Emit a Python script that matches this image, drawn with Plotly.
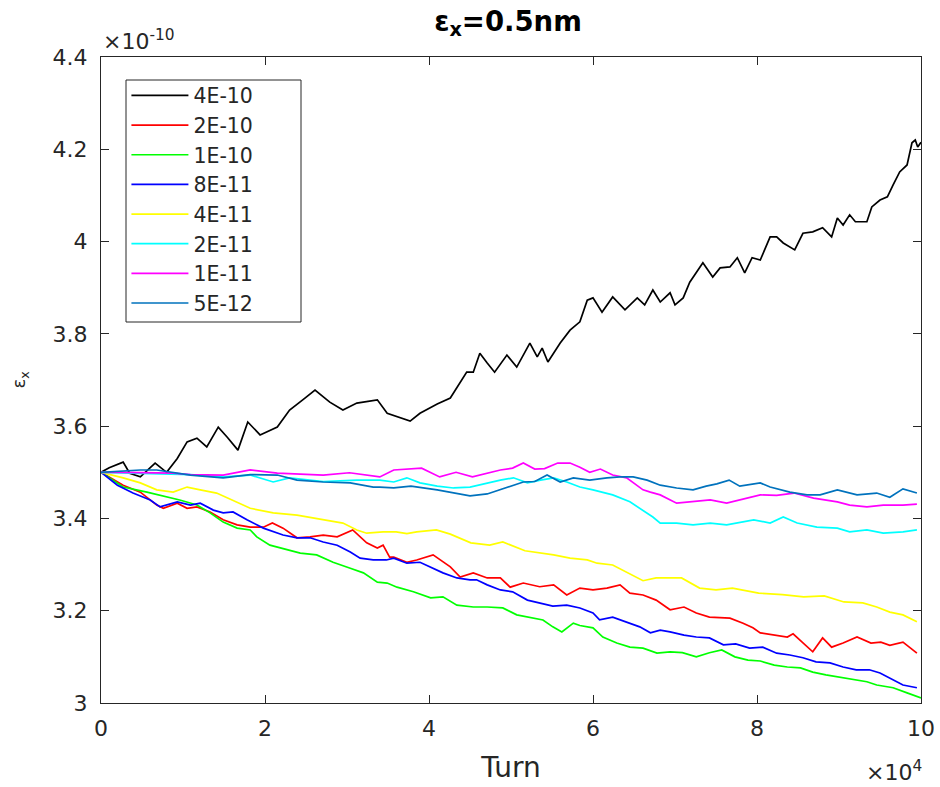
import plotly.graph_objects as go

# Horizontal emittance vs turn number for several coupling strengths.
# Turn values in units of 1e4, emittance in units of 1e-10 m.

labels = ["4E-10", "2E-10", "1E-10", "8E-11", "4E-11", "2E-11", "1E-11", "5E-12"]
colors = ["#000000", "#ff0000", "#00ff00", "#0000ff", "#ffff00", "#00ffff", "#ff00ff", "#0072bd"]

turn_4e10 = [0, 0.1, 0.27, 0.35, 0.48, 0.66, 0.80, 0.93, 1.05, 1.17, 1.29, 1.43, 1.54, 1.67, 1.79, 1.94,
             2.15, 2.30, 2.46, 2.61, 2.79, 2.95, 3.12, 3.37, 3.49, 3.61, 3.77, 3.89, 4.10, 4.26, 4.38,
             4.46, 4.54, 4.62, 4.71, 4.80, 4.95, 5.07, 5.23, 5.32, 5.38, 5.45, 5.60, 5.72, 5.84, 5.93,
             6.00, 6.11, 6.24, 6.39, 6.54, 6.63, 6.73, 6.82, 6.94, 7.00, 7.10, 7.18, 7.34, 7.46, 7.55,
             7.67, 7.76, 7.85, 7.94, 8.04, 8.16, 8.24, 8.32, 8.46, 8.56, 8.68, 8.80, 8.91, 8.98, 9.05,
             9.13, 9.20, 9.34, 9.40, 9.50, 9.59, 9.66, 9.74, 9.83, 9.89, 9.93, 9.96, 10.0]
emit_4e10 = [3.50, 3.51, 3.522, 3.498, 3.49, 3.52, 3.50, 3.53, 3.566, 3.574, 3.555, 3.598, 3.576, 3.548,
             3.609, 3.581, 3.598, 3.635, 3.657, 3.678, 3.652, 3.635, 3.650, 3.657, 3.628, 3.62, 3.611,
             3.628, 3.648, 3.661, 3.696, 3.717, 3.717, 3.758, 3.737, 3.717, 3.754, 3.728, 3.780, 3.75,
             3.769, 3.739, 3.78, 3.808, 3.826, 3.873, 3.878, 3.847, 3.880, 3.852, 3.878, 3.863, 3.895,
             3.869, 3.889, 3.863, 3.878, 3.912, 3.954, 3.923, 3.943, 3.945, 3.965, 3.932, 3.965, 3.960,
             4.010, 4.010, 3.997, 3.982, 4.018, 4.021, 4.03, 4.01, 4.051, 4.036, 4.058, 4.043, 4.043,
             4.075, 4.09, 4.097, 4.123, 4.151, 4.166, 4.214, 4.22, 4.205, 4.215]

turn_2e10 = [0, 0.27, 0.48, 0.68, 0.76, 0.93, 1.05, 1.17, 1.33, 1.49, 1.66, 1.82, 1.98, 2.09, 2.22,
             2.39, 2.55, 2.71, 2.88, 3.07, 3.24, 3.37, 3.44, 3.52, 3.57, 3.73, 3.85, 4.05, 4.26, 4.38,
             4.54, 4.71, 4.87, 4.99, 5.15, 5.35, 5.52, 5.68, 5.84, 6.00, 6.17, 6.33, 6.45, 6.61, 6.77,
             6.94, 7.11, 7.26, 7.42, 7.67, 7.83, 7.95, 8.04, 8.20, 8.37, 8.44, 8.56, 8.68, 8.80, 8.91,
             9.05, 9.22, 9.39, 9.51, 9.62, 9.78, 9.95]
emit_2e10 = [3.50, 3.472, 3.457, 3.429, 3.422, 3.433, 3.422, 3.425, 3.414, 3.397, 3.386, 3.381, 3.381,
             3.39, 3.379, 3.358, 3.36, 3.364, 3.36, 3.375, 3.347, 3.336, 3.342, 3.316, 3.316, 3.305,
             3.31, 3.321, 3.295, 3.273, 3.282, 3.271, 3.271, 3.251, 3.26, 3.252, 3.256, 3.234, 3.249,
             3.245, 3.249, 3.256, 3.238, 3.234, 3.223, 3.202, 3.208, 3.195, 3.186, 3.184, 3.173, 3.163,
             3.152, 3.147, 3.143, 3.15, 3.13, 3.111, 3.141, 3.121, 3.13, 3.143, 3.13, 3.132, 3.125,
             3.132, 3.108]

turn_1e10 = [0, 0.27, 0.56, 0.80, 0.96, 1.17, 1.33, 1.49, 1.66, 1.82, 1.90, 2.06, 2.27, 2.43, 2.63,
             2.83, 3.04, 3.20, 3.37, 3.49, 3.61, 3.81, 4.02, 4.17, 4.34, 4.54, 4.71, 4.90, 5.07, 5.23,
             5.39, 5.51, 5.62, 5.76, 5.84, 6.00, 6.12, 6.29, 6.45, 6.61, 6.78, 6.94, 7.09, 7.26, 7.42,
             7.57, 7.73, 7.89, 8.04, 8.21, 8.37, 8.53, 8.68, 8.84, 9.01, 9.17, 9.34, 9.46, 9.66, 9.83,
             10.0]
emit_1e10 = [3.50, 3.468, 3.457, 3.447, 3.44, 3.429, 3.412, 3.392, 3.379, 3.375, 3.36, 3.342, 3.332,
             3.325, 3.321, 3.305, 3.292, 3.282, 3.262, 3.26, 3.251, 3.241, 3.228, 3.23, 3.212, 3.208,
             3.208, 3.206, 3.191, 3.186, 3.18, 3.165, 3.154, 3.173, 3.168, 3.163, 3.143, 3.13, 3.121,
             3.119, 3.108, 3.111, 3.109, 3.10, 3.109, 3.115, 3.10, 3.093, 3.091, 3.082, 3.078, 3.076,
             3.067, 3.061, 3.056, 3.05, 3.046, 3.039, 3.033, 3.022, 3.011]

turn_8e11 = [0, 0.20, 0.39, 0.60, 0.72, 0.93, 1.09, 1.21, 1.37, 1.49, 1.61, 1.78, 1.98, 2.22, 2.39,
             2.55, 2.71, 2.88, 3.04, 3.16, 3.32, 3.48, 3.57, 3.73, 3.89, 4.01, 4.17, 4.34, 4.50, 4.58,
             4.71, 4.87, 5.02, 5.20, 5.35, 5.51, 5.68, 5.84, 6.00, 6.08, 6.24, 6.41, 6.57, 6.70, 6.82,
             6.94, 7.11, 7.26, 7.42, 7.59, 7.74, 7.91, 8.07, 8.24, 8.40, 8.56, 8.72, 8.89, 9.05, 9.21,
             9.37, 9.50, 9.62, 9.78, 9.95]
emit_8e11 = [3.50, 3.472, 3.455, 3.44, 3.425, 3.436, 3.429, 3.433, 3.418, 3.412, 3.414, 3.397, 3.379,
             3.364, 3.358, 3.358, 3.349, 3.342, 3.327, 3.314, 3.31, 3.31, 3.314, 3.303, 3.305, 3.295,
             3.282, 3.271, 3.267, 3.267, 3.256, 3.245, 3.241, 3.223, 3.217, 3.21, 3.212, 3.206, 3.195,
             3.18, 3.186, 3.176, 3.165, 3.152, 3.158, 3.154, 3.147, 3.143, 3.141, 3.126, 3.128, 3.119,
             3.121, 3.108, 3.104, 3.098, 3.089, 3.087, 3.078, 3.072, 3.072, 3.065, 3.054, 3.039, 3.033]

turn_4e11 = [0, 0.27, 0.48, 0.68, 0.88, 1.05, 1.21, 1.41, 1.82, 2.10, 2.39, 2.71, 2.95, 3.12, 3.24,
             3.44, 3.60, 3.73, 3.85, 4.09, 4.26, 4.51, 4.74, 4.90, 5.17, 5.52, 5.72, 5.93, 6.05, 6.24,
             6.42, 6.61, 6.77, 7.08, 7.30, 7.50, 7.70, 8.02, 8.31, 8.57, 8.82, 9.06, 9.29, 9.46, 9.62,
             9.78, 9.95]
emit_4e11 = [3.50, 3.488, 3.477, 3.462, 3.457, 3.468, 3.462, 3.455, 3.422, 3.412, 3.407, 3.397, 3.39,
             3.375, 3.368, 3.371, 3.371, 3.367, 3.371, 3.375, 3.366, 3.347, 3.342, 3.349, 3.33, 3.321,
             3.314, 3.31, 3.303, 3.299, 3.282, 3.265, 3.271, 3.271, 3.249, 3.245, 3.249, 3.238, 3.235,
             3.23, 3.232, 3.219, 3.217, 3.208, 3.197, 3.191, 3.176]

turn_2e11 = [0, 0.48, 1.09, 1.49, 1.82, 2.10, 2.30, 2.71, 3.12, 3.40, 3.57, 3.73, 3.89, 4.10, 4.30,
             4.50, 4.71, 4.87, 5.03, 5.20, 5.36, 5.52, 5.68, 5.84, 6.00, 6.24, 6.45, 6.61, 6.73, 6.82,
             7.02, 7.22, 7.43, 7.63, 7.79, 7.96, 8.16, 8.32, 8.49, 8.73, 8.98, 9.13, 9.34, 9.54, 9.78,
             9.95]
emit_2e11 = [3.50, 3.498, 3.495, 3.49, 3.494, 3.479, 3.488, 3.48, 3.483, 3.483, 3.479, 3.488, 3.477,
             3.47, 3.466, 3.468, 3.477, 3.483, 3.488, 3.477, 3.483, 3.488, 3.479, 3.468, 3.462, 3.451,
             3.436, 3.418, 3.403, 3.39, 3.39, 3.386, 3.39, 3.386, 3.392, 3.397, 3.39, 3.403, 3.39,
             3.381, 3.379, 3.371, 3.375, 3.368, 3.371, 3.375]

turn_1e11 = [0, 0.27, 0.88, 1.09, 1.49, 1.82, 2.15, 2.71, 3.03, 3.40, 3.57, 3.73, 3.91, 4.13, 4.33,
             4.53, 4.71, 4.87, 5.02, 5.15, 5.29, 5.41, 5.57, 5.72, 5.84, 5.96, 6.09, 6.24, 6.41, 6.61,
             6.70, 6.82, 7.02, 7.22, 7.43, 7.63, 7.79, 7.87, 8.04, 8.24, 8.45, 8.69, 8.98, 9.13, 9.34,
             9.54, 9.78, 9.95]
emit_1e11 = [3.50, 3.50, 3.498, 3.495, 3.494, 3.505, 3.498, 3.494, 3.499, 3.49, 3.505, 3.507, 3.509,
             3.49, 3.50, 3.49, 3.498, 3.505, 3.509, 3.52, 3.507, 3.508, 3.52, 3.52, 3.511, 3.50,
             3.507, 3.494, 3.488, 3.462, 3.457, 3.451, 3.433, 3.436, 3.44, 3.433, 3.44, 3.444, 3.451,
             3.45, 3.455, 3.444, 3.436, 3.429, 3.425, 3.429, 3.429, 3.431]

turn_5e12 = [0, 0.48, 0.68, 1.09, 1.49, 1.82, 2.15, 2.39, 2.71, 3.04, 3.32, 3.40, 3.57, 3.78, 4.10,
             4.30, 4.50, 4.71, 4.87, 5.03, 5.15, 5.29, 5.44, 5.60, 5.76, 5.96, 6.17, 6.33, 6.49, 6.66,
             6.82, 7.02, 7.22, 7.38, 7.51, 7.66, 7.79, 8.04, 8.16, 8.40, 8.61, 8.77, 8.98, 9.22, 9.46,
             9.62, 9.78, 9.95]
emit_5e12 = [3.50, 3.505, 3.505, 3.494, 3.488, 3.495, 3.494, 3.483, 3.479, 3.477, 3.468, 3.468,
             3.466, 3.47, 3.462, 3.455, 3.449, 3.453, 3.462, 3.472, 3.479, 3.48, 3.494, 3.479, 3.488,
             3.483, 3.488, 3.49, 3.49, 3.483, 3.472, 3.466, 3.462, 3.47, 3.475, 3.483, 3.47, 3.477,
             3.468, 3.457, 3.451, 3.451, 3.462, 3.451, 3.455, 3.446, 3.464, 3.455]

turns = [turn_4e10, turn_2e10, turn_1e10, turn_8e11, turn_4e11, turn_2e11, turn_1e11, turn_5e12]
emits = [emit_4e10, emit_2e10, emit_1e10, emit_8e11, emit_4e11, emit_2e11, emit_1e11, emit_5e12]

AXIS_COLOR = "#262626"
FONT = "DejaVu Sans"

fig = go.Figure()
for lab, col, tx, ey in zip(labels, colors, turns, emits):
    fig.add_trace(go.Scatter(
        x=tx, y=ey, mode="lines", name=lab, legendgroup=lab,
        line=dict(color=col, width=1.7),
    ))

axis_common = dict(
    showline=True, linecolor=AXIS_COLOR, linewidth=1, mirror="allticks",
    ticks="inside", ticklen=8, tickcolor=AXIS_COLOR, tickwidth=1,
    showgrid=False, zeroline=False, automargin=False,
    tickfont=dict(family=FONT, size=22, color=AXIS_COLOR),
)

fig.update_layout(
    width=940, height=787,
    margin=dict(l=101, r=19, t=57, b=84, autoexpand=False),
    paper_bgcolor="white", plot_bgcolor="white",
    font=dict(family=FONT, color=AXIS_COLOR),
    title=dict(
        text="<b>ε<sub>x</sub>=0.5nm</b>",
        x=508 / 940, xanchor="center", y=1 - 21 / 787, yanchor="middle",
        font=dict(family=FONT, size=27.5, color="#000000"),
    ),
    xaxis=dict(range=[0, 10], dtick=2, tick0=0, ticklabelstandoff=6,
               title=dict(text="Turn", font=dict(family=FONT, size=28, color=AXIS_COLOR), standoff=16),
               **axis_common),
    yaxis=dict(range=[3, 4.4], dtick=0.2, tick0=3, ticklabelstandoff=8,
               title=dict(text="ε<sub>x</sub>", font=dict(family=FONT, size=18, color=AXIS_COLOR), standoff=22),
               **axis_common),
    legend=dict(
        x=0.031, y=0.9712, xanchor="left", yanchor="top",
        bgcolor="rgba(0,0,0,0)", borderwidth=0,
        font=dict(family=FONT, size=20.5, color=AXIS_COLOR),
        tracegroupgap=0, itemwidth=57,
    ),
    showlegend=True,
)

# Legend frame
fig.add_shape(type="rect", xref="paper", yref="paper",
              x0=25 / 820, x1=200 / 820, y0=381 / 646, y1=623 / 646,
              line=dict(color=AXIS_COLOR, width=1), fillcolor="white", layer="above")

# Axis scale exponents
fig.add_annotation(text="×10<sup>-10</sup>", xref="paper", yref="paper", x=0.0, y=1.0,
                   xanchor="left", yanchor="bottom", showarrow=False, yshift=1,
                   font=dict(family=FONT, size=22, color=AXIS_COLOR))
fig.add_annotation(text="×10<sup>4</sup>", xref="paper", yref="paper", x=1.0, y=0.0,
                   xanchor="right", yanchor="top", showarrow=False, yshift=-52, xshift=3,
                   font=dict(family=FONT, size=22, color=AXIS_COLOR))

fig.write_html("out.html")
